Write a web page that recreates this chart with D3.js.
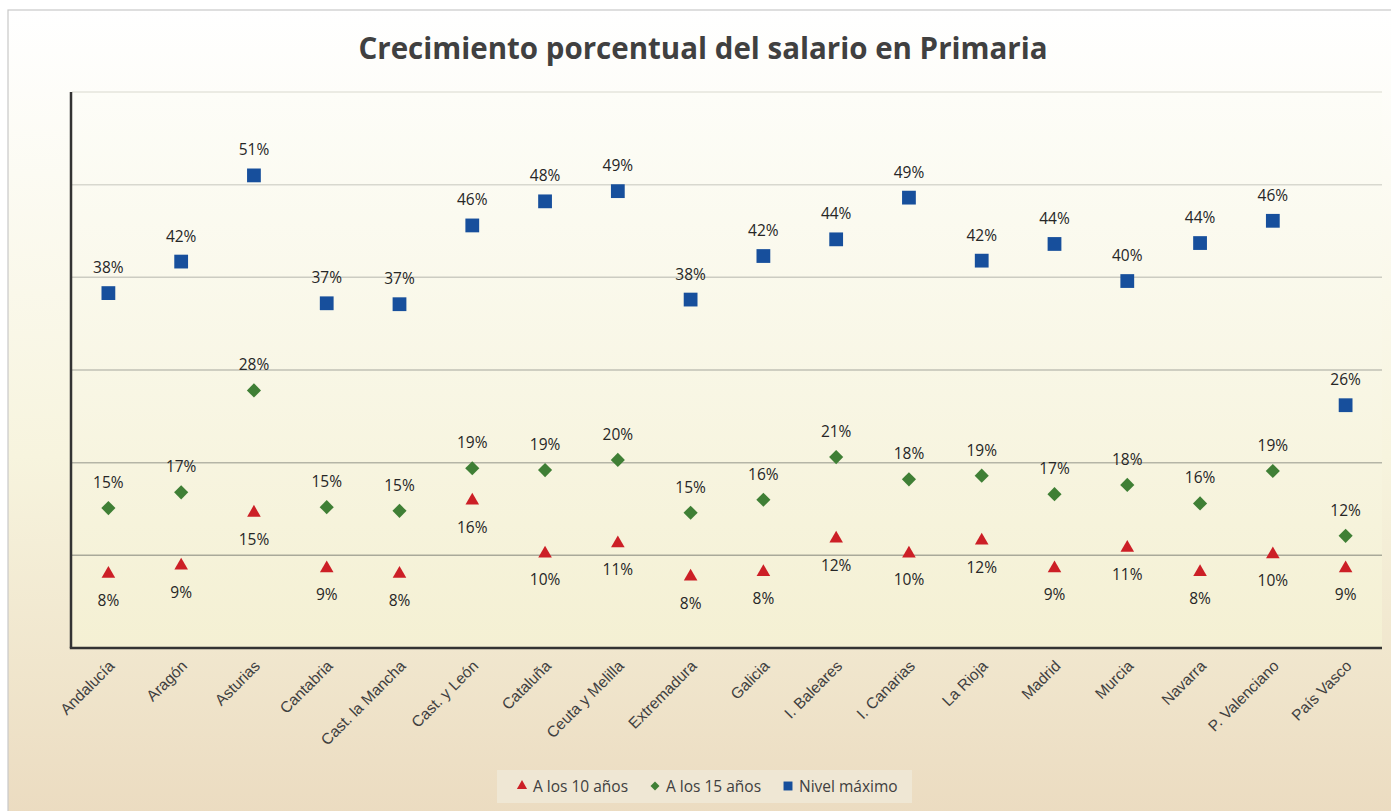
<!DOCTYPE html>
<html>
<head>
<meta charset="utf-8">
<script src="https://cdn.jsdelivr.net/npm/d3@7"></script>
<style>
  body { margin: 0; background: #fff; }
  svg { display: block; font-family: "Open Sans", Lato, sans-serif; }
</style>
</head>
<body>
<div id="chart-container"></div>
<script>
// Data
var regions = ["Andalucía", "Aragón", "Asturias", "Cantabria", "Cast. la Mancha", "Cast. y León",
    "Cataluña", "Ceuta y Melilla", "Extremadura", "Galicia", "I. Baleares", "I. Canarias",
    "La Rioja", "Madrid", "Murcia", "Navarra", "P. Valenciano", "País Vasco"];
var a10 = [8.0, 8.9, 14.6, 8.6, 8.0, 15.9, 10.2, 11.3, 7.7, 8.2, 11.8, 10.2, 11.6, 8.6, 10.8, 8.2, 10.1, 8.6];
var a15 = [15.1, 16.8, 27.8, 15.2, 14.8, 19.4, 19.2, 20.3, 14.6, 16.0, 20.6, 18.2, 18.6, 16.6, 17.6, 15.6, 19.1, 12.1];
var nivelMax = [38.3, 41.7, 51.0, 37.2, 37.1, 45.6, 48.2, 49.3, 37.6, 42.3, 44.1, 48.6, 41.8, 43.6, 39.6, 43.7, 46.1, 26.2];
var yTicks = [0, 10, 20, 30, 40, 50, 60];
var seriesNames = ["A los 10 años", "A los 15 años", "Nivel máximo"];

var W = 1391, H = 811;
var margin = { top: 92, right: 9, bottom: 163, left: 72 };
var width = W - margin.left - margin.right;
var height = H - margin.top - margin.bottom;

var svg = d3.select("#chart-container").append("svg")
    .attr("width", W).attr("height", H);

var defs = svg.append("defs");
var bgGrad = defs.append("linearGradient").attr("id", "bg")
    .attr("x1", 0).attr("y1", 0).attr("x2", 0).attr("y2", 1);
bgGrad.append("stop").attr("offset", "0%").attr("stop-color", "#ffffff");
bgGrad.append("stop").attr("offset", "55%").attr("stop-color", "#f7f4de");
bgGrad.append("stop").attr("offset", "100%").attr("stop-color", "#ebdbc0");

var plotGrad = defs.append("linearGradient").attr("id", "plotbg")
    .attr("x1", 0).attr("y1", 0).attr("x2", 0).attr("y2", 1);
plotGrad.append("stop").attr("offset", "0%").attr("stop-color", "#fdfdf8");
plotGrad.append("stop").attr("offset", "100%").attr("stop-color", "#f4f0d3");

// chart frame
svg.append("rect")
    .attr("x", 8).attr("y", 10).attr("width", W).attr("height", H)
    .attr("fill", "url(#bg)").attr("stroke", "#c8c8c8").attr("stroke-width", 1.2);

var g = svg.append("g").attr("transform", "translate(" + margin.left + "," + margin.top + ")");

g.append("rect").attr("width", width).attr("height", height).attr("fill", "url(#plotbg)");

var x = d3.scaleBand().domain(regions).range([0, width]);
var y = d3.scaleLinear().domain([0, 60]).range([height, 0]);

// gridlines
g.append("g").selectAll("line")
    .data(yTicks.filter(d => d > 0))
    .join("line")
    .attr("x1", 0).attr("x2", width)
    .attr("y1", d => y(d)).attr("y2", d => y(d))
    .attr("stroke", d => d3.interpolateRgb("#e4e4dc", "#a9a99a")((60 - d) / 50))
    .attr("stroke-width", 1.5);

// axes
g.append("line").attr("x1", -1).attr("x2", -1).attr("y1", 0).attr("y2", height)
    .attr("stroke", "#333").attr("stroke-width", 2.5);

var xAxis = g.append("g")
    .attr("transform", "translate(0," + height + ")")
    .call(d3.axisBottom(x).tickSize(0).tickPadding(0));
xAxis.select(".domain").attr("stroke", "#333").attr("stroke-width", 2.5).attr("d", "M-2.2,0H" + width);
xAxis.selectAll("text")
    .attr("font-size", 15.5).attr("fill", "#404040")
    .attr("text-anchor", "end")
    .attr("dy", 0)
    .attr("transform", "translate(7,19) rotate(-45)");

var colors = ["#cc1f26", "#3f7f35", "#174f9c"];
var symbols = [d3.symbolTriangle, d3.symbolSquare, d3.symbolSquare];
var sizes = [80, 100, 190];
var allSeries = [a10, a15, nivelMax];

allSeries.forEach(function(vals, si) {
    var pts = vals.map((v, i) => ({ region: regions[i], value: v }));
    var sym = d3.symbol().type(symbols[si]).size(sizes[si]);
    g.append("g").selectAll("path")
        .data(pts)
        .join("path")
        .attr("d", sym)
        .attr("fill", colors[si])
        .attr("transform", d => "translate(" + (x(d.region) + x.bandwidth() / 2) + "," + y(d.value) + ")" + (si === 1 ? " rotate(45)" : ""));

    g.append("g").selectAll("text")
        .data(pts)
        .join("text")
        .attr("x", d => x(d.region) + x.bandwidth() / 2)
        .attr("y", d => y(d.value) + (si === 0 ? 32 : -20))
        .attr("text-anchor", "middle")
        .attr("font-size", 15.5)
        .attr("fill", "#262626")
        .text(d => Math.round(d.value) + "%");
});

// title
svg.append("text")
    .attr("x", 703).attr("y", 59)
    .attr("text-anchor", "middle")
    .attr("font-size", 29.5).attr("font-weight", "bold")
    .attr("fill", "#404040")
    .text("Crecimiento porcentual del salario en Primaria");

// legend
var legend = svg.append("g").attr("transform", "translate(497,770)");
legend.append("rect").attr("width", 415).attr("height", 33).attr("fill", "#efe7d4");
var legendX = [25, 158, 291];
seriesNames.forEach(function(name, i) {
    legend.append("path")
        .attr("d", d3.symbol().type(symbols[i]).size([45, 40, 80][i]))
        .attr("fill", colors[i])
        .attr("transform", "translate(" + legendX[i] + ",16)" + (i === 1 ? " rotate(45)" : ""));
    legend.append("text")
        .attr("x", legendX[i] + 11).attr("y", 21.5)
        .attr("font-size", 15.5).attr("fill", "#404040")
        .text(name);
});
</script>
</body>
</html>
